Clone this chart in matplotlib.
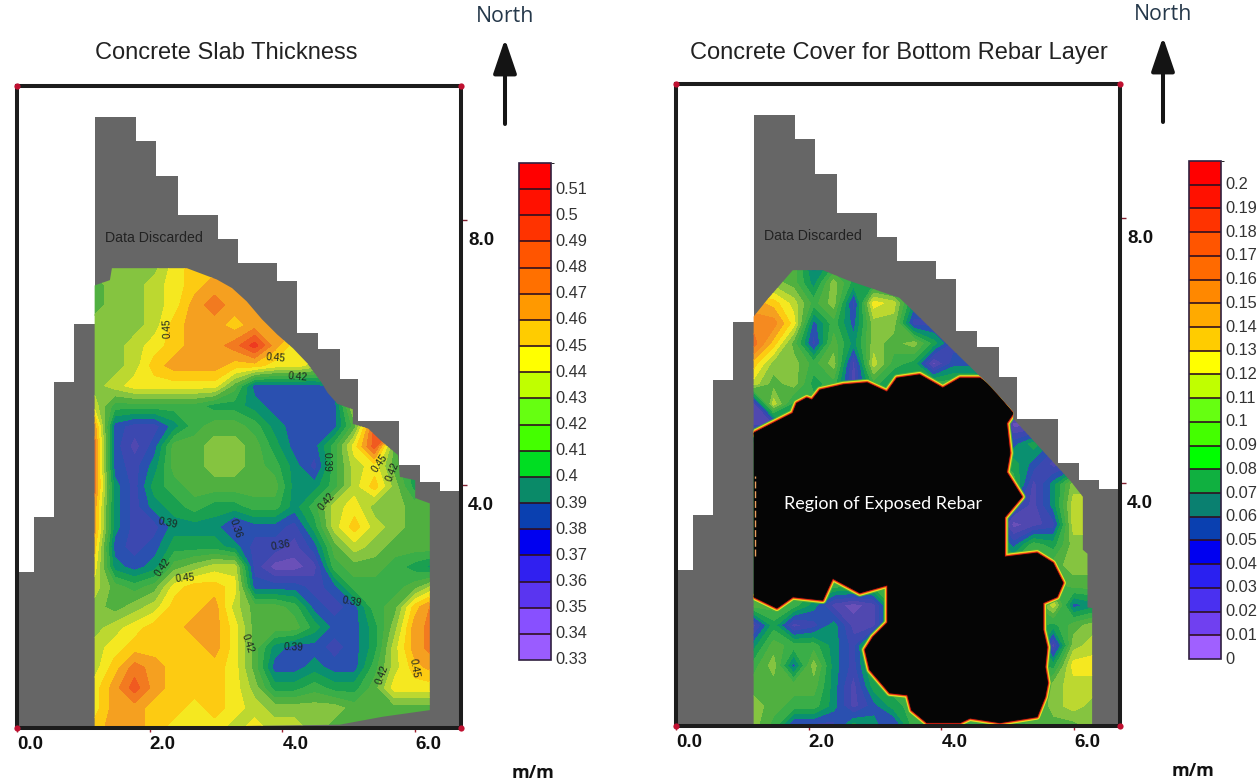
import numpy as np
import matplotlib
matplotlib.use("Agg")
import matplotlib.pyplot as plt
from matplotlib.colors import ListedColormap, BoundaryNorm
from matplotlib.colorbar import Colorbar
from matplotlib.patches import Polygon, FancyArrowPatch

W, H = 1259, 784
plt.rcParams['font.family'] = ['Liberation Sans', 'DejaVu Sans']

# ---------- data ----------
grid_x = np.linspace(1.17, 6.29, 18)
grid_y = np.linspace(7.32, 0.33, 24)

thickness_cm = [
 [43,43,43,43,45,46,46,46,46,46,46,46,46,46,46,46,46,46],
 [42,43,43,44,45,46,47,47,47,47,47,47,47,47,47,47,47,47],
 [42,43,43,44,45,47,48,47,47,47,47,47,47,47,47,47,47,47],
 [43,43,43,44,46,47,47,46,47,47,47,47,47,47,47,47,47,47],
 [43,43,44,45,46,47,47,48,50,47,45,45,45,45,45,45,45,45],
 [43,43,44,46,47,47,47,46,46,45,45,44,44,44,44,44,44,44],
 [43,44,45,45,45,45,45,42,38,38,38,38,39,42,44,44,44,44],
 [44,41,41,41,41,41,40,40,39,38,38,38,38,44,50,50,50,50],
 [47,38,37,37,39,41,42,42,41,39,38,38,38,42,49,50,50,50],
 [48,38,36,38,42,42,43,43,42,40,38,38,41,45,49,42,41,41],
 [48,38,37,39,42,42,43,43,42,41,39,37,41,44,45,42,40,40],
 [48,39,37,40,41,42,42,42,42,42,39,39,41,44,46,43,40,42],
 [47,39,37,39,40,41,40,40,41,41,39,41,44,45,43,43,42,42],
 [47,39,37,37,39,39,39,37,38,38,37,40,44,46,44,43,42,42],
 [46,38,37,38,40,40,40,39,37,37,36,38,42,44,43,42,42,42],
 [45,39,38,39,42,43,44,44,37,35,35,36,41,42,42,41,40,39],
 [44,42,41,42,45,46,46,45,38,38,38,37,38,41,41,41,42,44],
 [43,42,43,44,46,46,47,44,42,42,41,38,37,38,41,42,46,48],
 [43,44,45,46,46,47,47,45,42,42,42,40,38,38,40,43,47,48],
 [44,45,46,46,46,46,47,45,42,39,38,38,37,38,40,44,47,48],
 [44,46,48,47,46,46,46,45,42,38,38,39,38,38,41,44,46,47],
 [45,47,49,47,46,46,46,45,43,40,40,41,40,40,42,45,45,45],
 [45,47,47,46,46,45,46,45,44,43,43,43,43,42,42,42,42,42],
 [46,47,47,46,45,45,45,44,45,44,44,43,42,42,42,42,42,42],
]

cover_cm = [
 [9,9,9,5,7,8,7,6,6,6,6,6,6,6,6,6,6,6],
 [10,10,9,6,10,7,7,6,6,6,6,6,6,6,6,6,6,6],
 [14,13,11,8,10,4,12,11,6,6,6,6,6,6,6,6,6,6],
 [15,15,12,5,8,5,10,10,4,4,4,4,4,4,4,4,4,4],
 [16,13,9,4,9,6,10,9,10,7,4,4,4,4,4,4,4,4],
 [13,10,10,8,10,3,11,8,7,2,5,5,5,5,5,5,5,5],
 [11,9,10,7,8,3,8,6,8,8,8,8,6,6,6,6,6,6],
 [3,11,7,8,8,8,8,8,8,8,8,8,8,8,8,8,8,8],
 [3,3,8,8,8,8,8,8,8,8,8,8,8,2,2,2,2,2],
 [8,8,8,8,8,8,8,8,8,8,8,8,8,5,7,5,5,5],
 [8,8,8,8,8,8,8,8,8,8,8,8,8,7,5,3,4,4],
 [8,8,8,8,8,8,8,8,8,8,8,8,8,8,3,6,10,10],
 [8,8,8,8,8,8,8,8,8,8,8,8,8,5,3,6,11,11],
 [8,8,8,8,8,8,8,8,8,8,8,8,6,2,3,4,11,11],
 [8,8,8,8,8,8,8,8,8,8,8,8,8,5,8,7,10,10],
 [8,8,8,8,8,8,8,8,8,8,8,8,8,8,8,9,10,10],
 [8,8,8,8,8,8,8,8,8,8,8,8,8,8,8,8,9,9],
 [9,9,8,6,3,2,3,8,8,8,8,8,8,8,8,11,5,6],
 [3,7,3,4,6,3,3,8,8,8,8,8,8,8,8,7,9,10],
 [6,9,8,8,6,4,9,8,8,8,8,8,8,8,8,3,10,11],
 [8,10,5,10,6,4,8,8,8,8,8,8,8,8,8,7,12,12],
 [9,9,9,9,6,3,7,8,8,8,8,8,8,8,8,10,11,11],
 [10,9,8,8,6,3,5,7,8,8,8,8,8,8,8,10,11,10],
 [10,8,4,4,4,7,6,4,8,8,8,8,8,8,9,9,9,10],
]

# discarded-data staircase: column edges (m) and column tops (m)
stair_edges = [0,0.26,0.56,0.86,1.17,1.79,2.09,2.42,3.03,3.33,3.92,4.22,4.53,4.86,5.14,5.75,6.07,6.37,6.69]
stair_tops = [2.68,3.51,5.55,6.43,9.55,9.19,8.66,8.08,7.71,7.35,7.07,6.29,6.05,5.60,4.96,4.30,4.04,3.91]

# surveyed outline (m)
slab_x = [1.17,1.40,1.43,2.56,3.01,3.24,3.46,3.69,3.92,4.16,4.37,4.59,4.68,4.83,5.06,5.06,5.29,5.51,5.74,5.77,6.00,6.00,6.22,6.22,5.51,4.86,1.17]
slab_y = [7.01,7.09,7.27,7.27,7.10,6.97,6.77,6.50,6.27,6.06,5.84,5.54,5.39,5.22,5.14,4.92,4.85,4.64,4.45,4.12,4.07,3.80,3.72,0.60,0.50,0.38,0.33]
cover_x = [1.17,1.37,1.76,2.21,2.58,3.37,4.73,5.08,5.08,5.95,6.13,6.13,6.20,6.20,6.27,6.27,1.17]
cover_y = [6.51,6.76,7.21,7.21,7.06,6.79,5.46,5.07,4.97,4.02,3.79,2.99,2.93,2.12,2.11,0.33,0.33]

# exposed rebar outline (m)
rebar_x = [1.00,1.17,1.76,1.82,1.97,2.05,2.17,2.52,2.88,3.18,3.33,3.67,4.02,4.28,4.58,4.73,5.08,4.98,5.03,4.98,5.21,4.95,4.95,5.44,5.68,5.83,5.74,5.53,5.53,5.59,5.56,5.60,5.56,5.44,4.88,4.43,4.28,3.78,3.55,3.49,3.22,2.92,2.85,2.97,3.19,3.19,2.77,2.36,2.21,1.76,1.52,1.17,1.00]
rebar_y = [4.60,4.75,5.05,5.20,5.28,5.25,5.40,5.48,5.51,5.37,5.58,5.63,5.43,5.58,5.58,5.48,5.05,4.90,4.45,4.16,3.79,3.48,2.88,2.94,2.79,2.49,2.28,2.19,1.78,1.52,1.22,0.98,0.77,0.47,0.38,0.45,0.38,0.38,0.57,0.80,0.83,1.18,1.48,1.67,1.89,2.46,2.34,2.56,2.23,2.28,2.11,2.28,2.20]

x_ticks = [0, 2, 4, 6]
x_ticklabels = ['0.0', '2.0', '4.0', '6.0']
y_ticks = [4, 8]
y_ticklabels = ['4.0', '8.0']

slab_levels = np.arange(33, 53) / 100
slab_ticklabels = ['0.33','0.34','0.35','0.36','0.37','0.38','0.39','0.4','0.41','0.42','0.43','0.44','0.45','0.46','0.47','0.48','0.49','0.5','0.51']
cover_levels = np.arange(0, 22) / 100
cover_ticklabels = ['0','0.01','0.02','0.03','0.04','0.05','0.06','0.07','0.08','0.09','0.1','0.11','0.12','0.13','0.14','0.15','0.16','0.17','0.18','0.19','0.2']

slab_bar_colors = ['#9a5cff','#8850ff','#5a35f0','#3020f0','#0000f0','#0a40b0','#0a8a68','#00dd22','#44ff00','#66ff11','#c0ff00','#ffff00','#ffcc00','#ff9900','#ff7000','#ff5500','#ff3300','#ff1100','#ff0000']
slab_map_colors = ['#7a50c0','#7a50b8','#6a50b8','#5048b0','#3c48b0','#2a50b0','#0a9070','#1aa050','#3aae48','#50b040','#85c440','#bcd830','#f5e820','#fdcb12','#f5a020','#f27a20','#f05a20','#ee3a20','#e82020']
cover_bar_colors = ['#a060ff','#7040f0','#4a30f0','#2a20f0','#0000f0','#0a40b0','#0a8070','#10b040','#00ff00','#44ff00','#66ff11','#c0ff00','#ffff00','#ffcc00','#ffaa00','#ff8800','#ff6a00','#ff5500','#ff3300','#ff1100','#ff0000']
cover_map_colors = ['#8060c8','#7a58c0','#6a50b8','#5048b0','#3c48b0','#2a50b0','#0a9070','#1aa050','#3aae48','#50b040','#85c440','#bcd830','#f5e820','#fdcb12','#f5a020','#f58a20','#f27020','#f05a20','#ee3a20','#e82020','#e01818']

contour_labels = [
 ('0.45',167,328,92),('0.45',276,358,-5),('0.42',298,377,-5),('0.39',327,462,-90),
 ('0.45',380,463,55),('0.42',393,472,68),('0.42',327,502,50),('0.39',168,523,-12),
 ('0.36',236,528,-72),('0.36',281,545,10),('0.42',163,567,55),('0.45',185,578,5),
 ('0.39',352,602,-10),('0.42',248,643,-72),('0.39',294,647,-2),('0.42',382,675,70),('0.45',414,668,-80),
]

# ---------- layout ----------
fig = plt.figure(figsize=(W/100, H/100), dpi=100, facecolor='white')

def fx(p): return p / W
def fy(p): return 1 - p / H
def axes_px(l, t, r, b):
    return fig.add_axes([fx(l), fy(b), (r-l)/W, (b-t)/H])
def ftext(x, y, s, **kw):
    return fig.text(fx(x), fy(y), s, **kw)

def panel(frame, grid, levels, map_colors, out_x, out_y):
    ax = axes_px(*frame)
    ax.set_xlim(0, 6.69)
    ax.set_ylim(0.33, 10.02)
    ax.bar(stair_edges[:-1], np.array(stair_tops) - 0.33, np.diff(stair_edges), bottom=0.33,
           align='edge', color='#666666', linewidth=0, zorder=1)
    outline = Polygon(np.column_stack([out_x, out_y]), closed=True, transform=ax.transData,
                      fc='none', ec='none')
    ax.add_patch(outline)
    cs = ax.contourf(grid_x, grid_y, (np.array(grid) + 0.5) / 100, levels=levels,
                     colors=map_colors, extend='both', zorder=2)
    cs.set_clip_path(outline)
    for s in ax.spines.values():
        s.set_linewidth(2.9)
        s.set_color('#1c1c1c')
        s.set_zorder(6)
    ax.set_xticks(x_ticks, x_ticklabels, fontsize=13.5, fontweight='bold', color='#111111', ha='left')
    ax.tick_params(axis='x', length=3, width=1, color='#a02030', pad=3)
    ax.yaxis.tick_right()
    ax.set_yticks(y_ticks, ['', ''])
    ax.tick_params(axis='y', length=4, width=1, color='#802030', direction='out')
    for v, s in zip(y_ticks, y_ticklabels):
        ax.annotate(s, (1, v), xycoords=('axes fraction', 'data'), xytext=(5, -15),
                    textcoords='offset points', fontsize=13.5, fontweight='bold', color='#111111',
                    va='center', ha='left', annotation_clip=False)
    ax.scatter([0, 1, 0, 1], [0, 0, 1, 1], transform=ax.transAxes, s=20, color='#c01030',
               clip_on=False, zorder=7, linewidths=0)
    ax.text(0.2, 0.0 + 7.8, 'Data Discarded', transform=ax.get_yaxis_transform(), fontsize=10.3,
            color='#222222', va='center', ha='left', zorder=3) if False else None
    return ax, outline

def north(x, y_text, y_tail, y_tip):
    ftext(x, y_text, 'North', fontsize=15.3, family=['Open Sans', 'DejaVu Sans'], color='#25384a',
          ha='center', va='center')
    fig.add_artist(FancyArrowPatch((fx(x), fy(y_tail)), (fx(x), fy(y_tip)), transform=fig.transFigure,
                                   arrowstyle='-|>,head_length=1.0,head_width=0.34', mutation_scale=21,
                                   lw=2.9, color='#141414', shrinkA=0, shrinkB=0))

def bar(box, levels, colors, labels):
    cax = axes_px(*box)
    cb = Colorbar(cax, cmap=ListedColormap(colors), norm=BoundaryNorm(levels, len(colors)),
                  orientation='vertical', drawedges=True, spacing='uniform')
    cb.set_ticks(levels[:-1], labels=labels)
    cb.ax.tick_params(length=0, pad=3, labelsize=11.8, labelcolor='#333333')
    cb.dividers.set_color('#301020')
    cb.dividers.set_linewidth(1.2)
    cb.outline.set_edgecolor('#302040')
    cb.outline.set_linewidth(1.2)
    for t in cb.ax.get_yticklabels():
        t.set_verticalalignment('center')

# left panel
ax1, _ = panel((17, 86, 461, 728), thickness_cm, slab_levels, slab_map_colors, slab_x, slab_y)
for s, x, y, r in contour_labels:
    ftext(x, y, s, fontsize=7.3, color='#1c2420', rotation=r, ha='center', va='center', rotation_mode='anchor')
ftext(105, 238, 'Data Discarded', fontsize=10.2, color='#222222', va='center', ha='left')
ftext(226, 53, 'Concrete Slab Thickness', fontsize=17, color='#222222', ha='center', va='center')
ftext(533.5, 773, 'm/m', fontsize=13, fontweight='bold', family=['Open Sans', 'DejaVu Sans'],
      color='#111111', ha='center', va='center')
north(505, 17, 124, 39)
bar((519, 163, 551, 660), slab_levels, slab_bar_colors, slab_ticklabels)

# right panel
ax2, out2 = panel((676, 84, 1120, 726), cover_cm, cover_levels, cover_map_colors, cover_x, cover_y)
rb = np.column_stack([rebar_x, rebar_y])
for col, lw in zip(['#50b040', '#f5e820', '#f59020', '#d82010'], [5.6, 4.2, 3.0, 2.0]):
    p = Polygon(rb, closed=True, transform=ax2.transData, fc='none', ec=col, lw=lw, joinstyle='round', zorder=3)
    ax2.add_patch(p)
    p.set_clip_path(out2)
p = Polygon(rb, closed=True, transform=ax2.transData, fc='#050505', ec='#050505', lw=0.6, joinstyle='round', zorder=4)
ax2.add_patch(p)
p.set_clip_path(out2)
ax2.plot([1.185, 1.185], [2.9, 4.1], color='#e8a060', lw=1.0, ls=(0, (5, 2)), zorder=5)
ftext(883, 504, 'Region of Exposed Rebar', fontsize=13, family=['Lato', 'DejaVu Sans'], color='white',
      ha='center', va='center', zorder=10)
ftext(764, 236, 'Data Discarded', fontsize=10.2, color='#222222', va='center', ha='left')
ftext(898.5, 53, 'Concrete Cover for Bottom Rebar Layer', fontsize=17, color='#222222', ha='center', va='center')
ftext(1193.5, 771, 'm/m', fontsize=13, fontweight='bold', family=['Open Sans', 'DejaVu Sans'],
      color='#111111', ha='center', va='center')
north(1163, 15, 122, 37)
bar((1189, 161, 1221, 659), cover_levels, cover_bar_colors, cover_ticklabels)

fig.savefig('out.png', dpi=100)
